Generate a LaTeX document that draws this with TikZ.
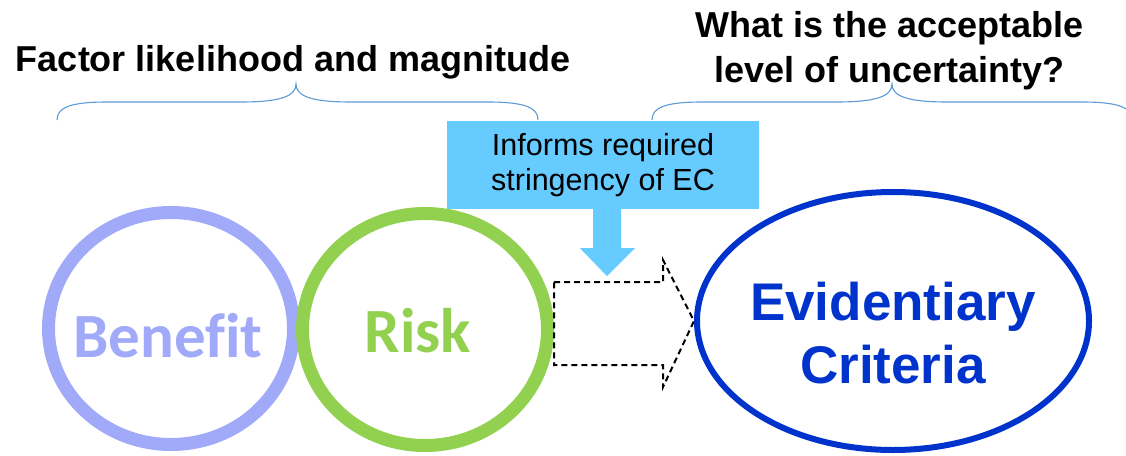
\documentclass[tikz,border=0pt]{standalone}
\usepackage{fontspec}
\setmainfont{Liberation Sans}
\newfontfamily\calibri[Ligatures=NoCommon]{Carlito}
\usetikzlibrary{shapes.geometric}

\definecolor{benefitblue}{HTML}{A0AAF8}
\definecolor{riskgreen}{HTML}{92D050}
\definecolor{criteriablue}{HTML}{0033CC}
\definecolor{calloutblue}{HTML}{66CCFF}
\definecolor{bracketblue}{HTML}{5B9BD5}

\begin{document}
\begin{tikzpicture}[x=1pt,y=-1pt,
    heading/.style={font=\fontsize{36}{45}\selectfont\bfseries, align=center},
    ring/.style={ellipse, draw=#1, line width=13pt,
        minimum width=245pt, minimum height=232pt},
    ringtext/.style={font=\calibri\fontsize{63}{63}\selectfont\bfseries,
        text=#1, anchor=base},
    bracket line/.style={draw=bracketblue, line width=1.1pt},
    ]

    \useasboundingbox (0,0) rectangle (1126,455);

    % headings and their curly brackets
    \node[heading, anchor=base] (factors) at (293,71) {Factor likelihood and magnitude};
    \node[heading] (uncertainty) at (889.5,50.5) {What is the acceptable\\level of uncertainty?};

    \draw[bracket line] (57,120) .. controls (57,108) and (69,102) .. (107,102)
        -- (241,102) .. controls (281,102) and (296,96) .. (296,84)
        .. controls (296,96) and (311,102) .. (351,102)
        -- (488,102) .. controls (526,102) and (538,108) .. (538,120);
    \draw[bracket line] (652,120) .. controls (652,108) and (664,102) .. (702,102)
        -- (837,102) .. controls (877,102) and (892,96) .. (892,84)
        .. controls (892,96) and (907,102) .. (947,102)
        -- (1082,102) .. controls (1120,102) and (1132,108) .. (1132,120);

    % callout box with its down arrow
    \node[fill=calloutblue, minimum width=312pt, minimum height=88pt,
        font=\fontsize{30.5}{35}\selectfont, align=center] (informs) at (603,165)
        {Informs required\\stringency of EC};
    \fill[calloutblue] ([xshift=-10pt]informs.south) -- ++(0,39) -- ++(-13,0)
        -- ++(27,28) -- ++(28,-28) -- ++(-14,0) -- ++(0,-39) -- cycle;

    % the two rings
    \node[ring=benefitblue] (benefit) at (171,328.5) {};
    \node[ring=riskgreen] (risk) at (425,329.5) {};
    \node[ringtext=benefitblue] (benefitlabel) at (168,357) {Benefit};
    \node[ringtext=riskgreen] (risklabel) at (418,352) {Risk};

    % evidentiary criteria
    \node[ellipse, draw=criteriablue, line width=6pt,
        minimum width=392pt, minimum height=258pt] (criteria) at (893,321) {};
    \node[font=\fontsize{53}{63}\selectfont\bfseries, text=criteriablue,
        align=center] (criterialabel) at (893,333.5) {Evidentiary\\Criteria};

    % dashed block arrow
    \draw[line width=2pt, dash pattern=on 6pt off 4pt]
        (risk.east |- 0,282) -- (663,282) -- (663,260) -- (criteria.west)
        -- (663,387) -- (663,365) -- (risk.east |- 0,365) -- cycle;

\end{tikzpicture}
\end{document}
